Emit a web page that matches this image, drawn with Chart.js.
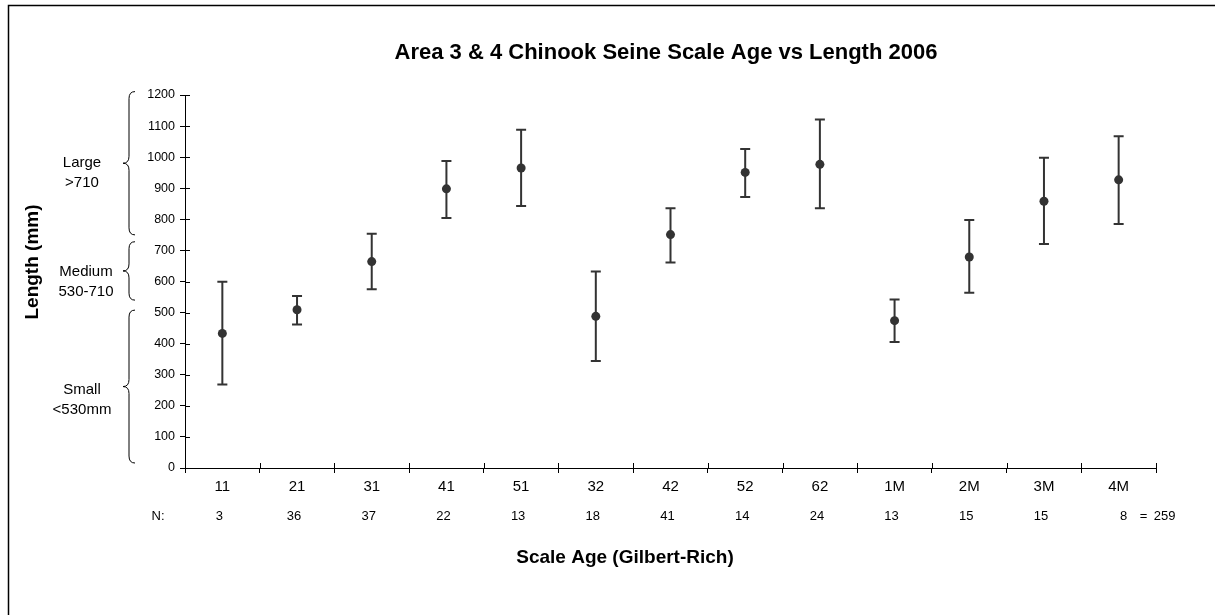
<!DOCTYPE html>
<html>
<head>
<meta charset="utf-8">
<script src="https://cdn.jsdelivr.net/npm/chart.js@4.4.1/dist/chart.umd.min.js"></script>
<style>
  html, body { margin: 0; padding: 0; background: #ffffff; }
  #wrap { width: 1215px; height: 615px; position: relative; }
</style>
</head>
<body>
<div id="wrap"><canvas id="c" width="1215" height="615"></canvas></div>
<script>
// ---- data ----
const categories   = ['11','21','31','41','51','32','42','52','62','1M','2M','3M','4M'];
const meanLength   = [433, 509, 664, 898, 965, 488, 751, 951, 977, 474, 679, 858, 927];
const upperLength  = [599, 553, 754, 988, 1088, 632, 836, 1026, 1121, 542, 798, 998, 1067];
const lowerLength  = [269, 462, 575, 804, 843, 344, 661, 872, 836, 405, 564, 721, 785];
const sampleN      = ['3','36','37','22','13','18','41','14','24','13','15','15','8'];
const totalN       = '259';
const yMin = 0, yMax = 1200, yStep = 100;
const bandLabels   = [['Large','>710'], ['Medium','530-710'], ['Small','<530mm']];
const bandTop      = [1211, 728, 508];
const bandBottom   = [750, 540, 16];

const titleText  = 'Area 3 & 4 Chinook Seine Scale Age vs Length 2006';
const yTitleText = 'Length (mm)';
const xTitleText = 'Scale Age (Gilbert-Rich)';

const FONT = "'Liberation Sans', Arial, sans-serif";
const INK = '#000000';
const MARK = '#333333';

const decorPlugin = {
  id: 'decor',
  beforeDatasetsDraw(chart) {
    const { ctx, scales } = chart;
    const x = scales.x, y = scales.y;
    ctx.save();
    // error bars
    ctx.strokeStyle = MARK;
    ctx.lineWidth = 2;
    for (let i = 0; i < categories.length; i++) {
      const px = x.getPixelForValue(i);
      const pt = y.getPixelForValue(upperLength[i]);
      const pb = y.getPixelForValue(lowerLength[i]);
      ctx.beginPath();
      ctx.moveTo(px, pt); ctx.lineTo(px, pb);
      ctx.moveTo(px - 5, pt); ctx.lineTo(px + 5, pt);
      ctx.moveTo(px - 5, pb); ctx.lineTo(px + 5, pb);
      ctx.stroke();
    }
    ctx.restore();
  },
  afterDraw(chart) {
    const { ctx, chartArea, scales, width, height } = chart;
    const x = scales.x, y = scales.y;
    ctx.save();
    // frame (left & top visible)
    ctx.strokeStyle = '#000';
    ctx.lineWidth = 1.5;
    ctx.beginPath();
    ctx.moveTo(8.5, height + 2); ctx.lineTo(8.5, 5.5); ctx.lineTo(width + 2, 5.5);
    ctx.stroke();

    // inner tick halves
    ctx.strokeStyle = '#000';
    ctx.lineWidth = 1;
    ctx.beginPath();
    for (let v = yMin; v <= yMax; v += yStep) {
      const py = Math.round(y.getPixelForValue(v)) + 0.5;
      ctx.moveTo(chartArea.left, py); ctx.lineTo(chartArea.left + 5, py);
    }
    const n = categories.length;
    const w = (chartArea.right - chartArea.left) / n;
    for (let i = 0; i <= n; i++) {
      const px = Math.round(chartArea.left + i * w) + 0.5;
      ctx.moveTo(px, chartArea.bottom); ctx.lineTo(px, chartArea.bottom - 5);
    }
    ctx.stroke();

    ctx.fillStyle = INK;
    ctx.textAlign = 'center';
    ctx.textBaseline = 'middle';
    // title
    ctx.font = 'bold 22px ' + FONT;
    ctx.fillText(titleText, 666, 53);

    // x title
    ctx.font = 'bold 19px ' + FONT;
    ctx.fillText(xTitleText, 625, 558);

    // y title
    ctx.save();
    ctx.translate(33, 262);
    ctx.rotate(-Math.PI / 2);
    ctx.font = 'bold 19px ' + FONT;
    ctx.fillText(yTitleText, 0, 0);
    ctx.restore();

    // N row
    ctx.font = '13px ' + FONT;
    ctx.fillText('N:', 158, 516);
    for (let i = 0; i < n; i++) {
      const px = x.getPixelForValue(i);
      if (i === n - 1) {
        ctx.fillText(sampleN[i], px + 5, 516);
        ctx.fillText('=', px + 25, 516);
        ctx.fillText(totalN, px + 46, 516);
      } else {
        ctx.fillText(sampleN[i], px - 3, 516);
      }
    }

    // size band braces
    const labelX = [82, 86, 82];
    const labelDy = [0, 1, 3];
    ctx.strokeStyle = '#000';
    ctx.lineWidth = 1;
    for (let b = 0; b < bandLabels.length; b++) {
      const t = y.getPixelForValue(bandTop[b]);
      const bt = y.getPixelForValue(bandBottom[b]);
      const mid = (t + bt) / 2;
      const bx = 129, ww = 6, r = 7;
      ctx.beginPath();
      ctx.moveTo(bx + ww, t);
      ctx.quadraticCurveTo(bx, t, bx, t + r);
      ctx.lineTo(bx, mid - r);
      ctx.quadraticCurveTo(bx, mid, bx - ww, mid);
      ctx.quadraticCurveTo(bx, mid, bx, mid + r);
      ctx.lineTo(bx, bt - r);
      ctx.quadraticCurveTo(bx, bt, bx + ww, bt);
      ctx.stroke();
      ctx.font = '15px ' + FONT;
      ctx.fillText(bandLabels[b][0], labelX[b], mid + labelDy[b]);
      ctx.fillText(bandLabels[b][1], labelX[b], mid + labelDy[b] + 20);
    }
    ctx.restore();
  }
};

new Chart(document.getElementById('c'), {
  type: 'line',
  data: {
    labels: categories,
    datasets: [{
      data: meanLength,
      showLine: false,
      pointRadius: 4.5,
      pointHoverRadius: 4.5,
      pointBackgroundColor: MARK,
      pointBorderColor: MARK,
      pointBorderWidth: 0
    }]
  },
  options: {
    responsive: false,
    animation: false,
    devicePixelRatio: 1,
    layout: { padding: { left: 125, right: 59, top: 95, bottom: 0 } },
    plugins: { legend: { display: false }, tooltip: { enabled: false }, title: { display: false } },
    scales: {
      x: {
        type: 'category',
        offset: true,
        grid: { offset: true, drawOnChartArea: false, tickLength: 5, color: '#000', tickColor: '#000' },
        border: { display: true, color: '#000', width: 1 },
        ticks: { color: INK, font: { family: FONT, size: 15 }, padding: 5, maxRotation: 0, autoSkip: false },
        afterFit(s) { s.height = 147; }
      },
      y: {
        min: yMin, max: yMax,
        grid: { drawOnChartArea: false, tickLength: 5, color: '#000', tickColor: '#000' },
        border: { display: true, color: '#000', width: 1 },
        ticks: { stepSize: yStep, color: INK, font: { family: FONT, size: 12.5 }, padding: 5,
                 callback: (v) => String(v) },
        afterFit(s) { s.width = 60; }
      }
    }
  },
  plugins: [decorPlugin]
});
</script>
</body>
</html>
